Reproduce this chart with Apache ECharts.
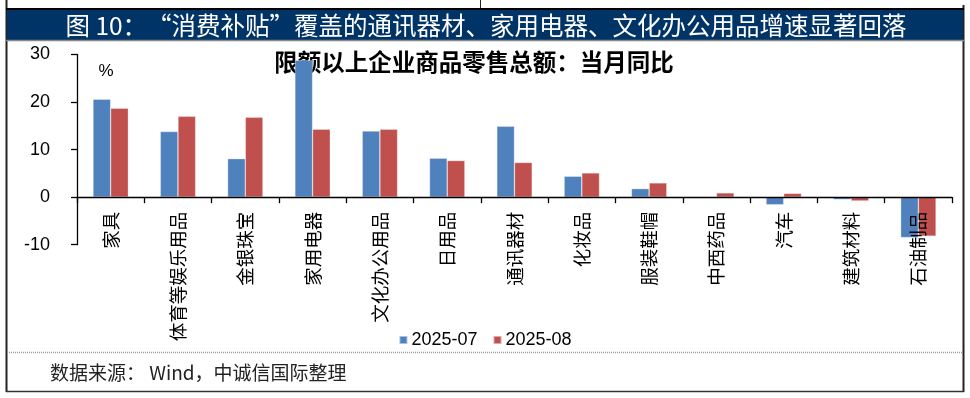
<!DOCTYPE html>
<html>
<head>
<meta charset="utf-8">
<script src="https://cdn.jsdelivr.net/npm/echarts@6/dist/echarts.min.js"></script>
<style>
html,body{margin:0;padding:0;background:#fff;}
#c{width:970px;height:398px;}
</style>
</head>
<body>
<div id="c"></div>
<script>
const categories = ['家具','体育等娱乐用品','金银珠宝','家用电器','文化办公用品','日用品','通讯器材','化妆品','服装鞋帽','中西药品','汽车','建筑材料','石油制品'];
const seriesNames = ['2025-07','2025-08'];
const jul = [20.6, 13.8, 8.1, 28.8, 13.9, 8.2, 14.9, 4.4, 1.8, 0.0, -1.6, -0.5, -8.5];
const aug = [18.7, 17.0, 16.8, 14.3, 14.3, 7.7, 7.3, 5.1, 3.0, 0.9, 0.8, -0.8, -8.2];
const yTicks = {min: -10, max: 30, interval: 10};
const titleText = '图 10：“消费补贴”覆盖的通讯器材、家用电器、文化办公用品增速显著回落';
const subTitle = '限额以上企业商品零售总额：当月同比';
const unitText = '%';
const sourceText = '数据来源： Wind，中诚信国际整理';

const CJK = '"Noto Sans CJK SC", sans-serif';
const chart = echarts.init(document.getElementById('c'), null, {renderer: 'canvas'});
chart.setOption({
  animation: false,
  backgroundColor: '#fff',
  grid: {left: 77, right: 18, top: 54.5, bottom: 153.3, containLabel: false},
  legend: {
    data: seriesNames,
    left: 'center', top: 326,
    itemWidth: 8, itemHeight: 8, itemGap: 15,
    icon: 'rect',
    textStyle: {fontFamily: '"Liberation Sans", Arial, sans-serif', fontSize: 18, color: '#000', padding: [0,0,0,-1]}
  },
  xAxis: {
    type: 'category',
    data: categories,
    z: 10,
    axisLine: {onZero: true, lineStyle: {color: '#000', width: 1.3}},
    axisTick: {show: true, length: 6, lineStyle: {color: '#000', width: 1.3}},
    axisLabel: {rotate: 90, margin: -33, fontFamily: CJK, fontSize: 18.5, color: '#000', interval: 0}
  },
  yAxis: {
    type: 'value',
    min: yTicks.min, max: yTicks.max, interval: yTicks.interval,
    axisLine: {show: true, lineStyle: {color: '#000', width: 1.3}},
    axisTick: {show: true, length: 6, lineStyle: {color: '#000', width: 1.3}},
    splitLine: {show: false},
    axisLabel: {margin: 27, fontFamily: '"Liberation Sans", Arial, sans-serif', fontSize: 18, color: '#000'}
  },
  series: [
    {name: seriesNames[0], type: 'bar', data: jul, barWidth: 17.7, barGap: '0%', z: 2,
     itemStyle: {color: '#4F81BD', borderColor: 'rgba(255,255,255,0.5)', borderWidth: 0.6}},
    {name: seriesNames[1], type: 'bar', data: aug, barWidth: 17.7, barGap: '0%', z: 2,
     itemStyle: {color: '#C0504D', borderColor: 'rgba(255,255,255,0.5)', borderWidth: 0.6}}
  ],
  graphic: [
    {type: 'line', shape: {x1: 6.5, y1: 0, x2: 6.5, y2: 392}, style: {stroke: '#222', lineWidth: 2}},
    {type: 'line', shape: {x1: 963.5, y1: 5, x2: 963.5, y2: 392}, style: {stroke: '#222', lineWidth: 2}},
    {type: 'line', shape: {x1: 480.5, y1: 0, x2: 480.5, y2: 9}, style: {stroke: '#222', lineWidth: 1}},
    {type: 'line', shape: {x1: 6, y1: 9, x2: 964, y2: 9}, style: {stroke: '#000', lineWidth: 2}},
    {type: 'rect', shape: {x: 7, y: 10, width: 956, height: 30}, style: {fill: '#003366'}},
    {type: 'line', shape: {x1: 6, y1: 40.5, x2: 964, y2: 40.5}, style: {stroke: '#888', lineWidth: 1.5}},
    {type: 'line', shape: {x1: 6, y1: 391.5, x2: 964, y2: 391.5}, style: {stroke: '#333', lineWidth: 1.5}},
    {type: 'line', shape: {x1: 7, y1: 352.5, x2: 963, y2: 352.5}, style: {stroke: '#999', lineWidth: 1.5, lineDash: [1, 1]}},
    {type: 'text', x: 486, y: 26, style: {text: titleText, fill: '#fff', font: 'normal 24.5px ' + CJK, textAlign: 'center', textVerticalAlign: 'middle'}},
    {type: 'text', x: 474, y: 62, style: {text: subTitle, fill: '#000', font: 'bold 23.5px ' + CJK, textAlign: 'center', textVerticalAlign: 'middle'}},
    {type: 'text', x: 106, y: 71, style: {text: unitText, fill: '#000', font: 'normal 17px "Liberation Sans", Arial, sans-serif', textAlign: 'center', textVerticalAlign: 'middle'}},
    {type: 'text', x: 50, y: 373, style: {text: sourceText, fill: '#222', font: 'normal 19px ' + CJK, textAlign: 'left', textVerticalAlign: 'middle'}}
  ]
});
</script>
</body>
</html>
